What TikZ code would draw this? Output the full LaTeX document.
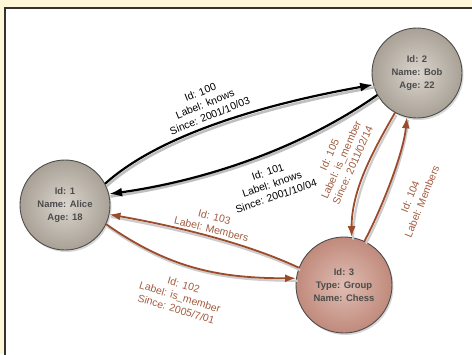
\documentclass[tikz,border=0pt]{standalone}
\usepackage{fontspec}
\setmainfont{Liberation Sans}
\usetikzlibrary{arrows.meta,shadows}
\definecolor{paper}{HTML}{FFF8D8}
\definecolor{rust}{HTML}{9C4A2A}
\definecolor{rusttext}{HTML}{A35C40}
\definecolor{stone}{HTML}{A9A196}
\definecolor{stonelight}{HTML}{DAD5CE}
\definecolor{clay}{HTML}{C08A7C}
\definecolor{claylight}{HTML}{E0BDB3}
\tikzset{
  vertex/.style={circle, draw=black!70, line width=0.9pt, inner sep=0pt, align=center,
    font=\fontsize{9.5}{13}\selectfont\bfseries, text=black!70,
    drop shadow={opacity=0.3, shadow xshift=1.5bp, shadow yshift=-2bp}},
  person/.style={vertex, minimum size=90bp, shading=radial, inner color=stonelight, outer color=stone},
  club/.style={vertex, minimum size=96bp, shading=radial, inner color=claylight, outer color=clay},
  knows/.style={draw=black, line width=2.2pt, -{Latex[length=13bp,width=9bp]},
    preaction={draw=black!25, line width=2.6pt, -, transform canvas={shift={(1.5bp,-2.5bp)}}}},
  member/.style={draw=rust, line width=1.8pt, -{Latex[length=11bp,width=8bp]},
    preaction={draw=black!20, line width=2.2pt, -, transform canvas={shift={(1.5bp,-2.5bp)}}}},
  lbl/.style={font=\fontsize{10.5}{12.8}\selectfont, align=center, inner sep=0pt},
  rustlbl/.style={lbl, text=rusttext}
}
\begin{document}
\begin{tikzpicture}[x=1bp, y=1bp]
\useasboundingbox (0,0) rectangle (472,-354);
\fill[paper] (0,0) rectangle (472,-354);
\draw[fill=white, draw=black!80, line width=1.3pt] (5,-8) rectangle (480,-362);

\node[person] (alice) at (65,-205) {Id: 1\\Name: Alice\\Age: 18};
\node[person] (bob) at (417,-73) {Id: 2\\Name: Bob\\Age: 22};
\node[club] (chess) at (344,-285) {Id: 3\\Type: Group\\Name: Chess};

% knows
\draw[knows] (alice.28) to[out=42, in=190, looseness=0.75] (bob.195)
  node[lbl, rotate=22] at (205,-104) {Id: 100\\Label: knows\\Since: 2001/10/03};
\draw[knows] (bob.209) to[out=215, in=8, looseness=0.85] (alice.14)
  node[lbl, rotate=19] at (272,-184) {Id: 101\\Label: knows\\Since: 2001/10/04};

% membership
\draw[member] (chess.159) to[out=155, in=-10, looseness=0.8] (alice.-12)
  node[rustlbl, rotate=-14] at (213,-223) {Id: 103\\Label: Members};
\draw[member] (alice.-25) to[out=-35, in=180] (chess.172)
  node[rustlbl, rotate=-17] at (180,-297) {Id: 102\\Label: is\_member\\Since: 2005/7/01};
\draw[member] (bob.241) to[out=240, in=90, looseness=0.9] (chess.81)
  node[rustlbl, rotate=66] at (341,-160) {Id: 105\\Label: is\_member\\Since: 2011/02/14};
\draw[member] (chess.65) to[out=62, in=-95, looseness=0.7] (bob.257)
  node[rustlbl, rotate=68] at (416,-199) {Id: 104\\Label: Members};
\end{tikzpicture}
\end{document}
